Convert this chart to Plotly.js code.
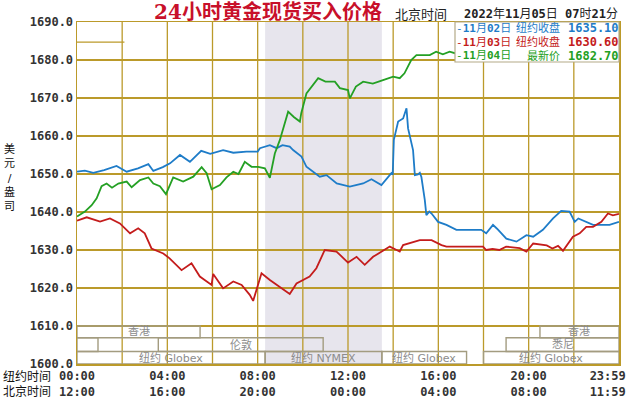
<!DOCTYPE html>
<html><head><meta charset="utf-8">
<script src="https://cdn.plot.ly/plotly-3.0.1.min.js"></script>
<style>body{margin:0;background:#fff}#chart{width:630px;height:400px}</style>
</head><body><div id="chart"></div>
<script>
// ---- data (hours of New-York time, USD/oz) ----
const hoursNov02 = [0,0.35,0.72,1.2,1.75,2.2,2.7,3.16,3.38,3.8,4.12,4.56,5.0,5.5,5.9,6.47,6.92,7.5,8.0,8.1,8.54,8.84,9.1,9.42,9.57,9.94,10.16,10.75,11.05,11.5,12.08,12.67,13.04,13.48,13.92,13.98,14.03,14.22,14.44,14.59,14.66,14.88,14.96,15.1,15.18,15.25,15.4,15.47,15.6,15.7,15.99,16.36,16.8,17.9,18.12,18.42,18.6,19.01,19.46,19.9,20.2,20.63,21.08,21.44,21.81,22.04,22.2,22.85,23.58,24];
const priceNov02 = [1650.6,1650.9,1650.3,1651.0,1652.1,1650.6,1651.5,1652.6,1650.8,1651.8,1652.8,1655.0,1653.2,1656.1,1655.3,1656.3,1655.6,1655.9,1655.9,1656.8,1657.6,1656.8,1657.6,1657.2,1656.3,1654.6,1651.9,1649.3,1649.7,1647.5,1646.7,1647.5,1648.6,1647.1,1650.2,1649.8,1659.0,1663.8,1664.6,1667.3,1662.0,1656.3,1649.7,1649.9,1650.3,1649.2,1643.2,1639.2,1640.1,1639.6,1637.4,1636.6,1635.3,1635.3,1634.4,1636.6,1635.6,1633.0,1632.2,1633.9,1633.5,1635.3,1638.3,1640.3,1640.1,1637.4,1638.3,1636.6,1636.6,1637.4];

const hoursNov03 = [0,0.43,1.02,1.46,1.9,2.35,2.71,3.0,3.3,3.82,4.1,4.63,5.07,5.44,5.96,6.03,6.47,6.92,7.29,7.65,7.8,8.17,8.54,8.98,9.13,9.42,9.72,10.0,10.3,10.6,10.97,11.49,12.0,12.38,12.74,13.11,13.48,13.85,14.15,14.29,14.44,15.18,15.7,16.14,16.36,17.98,18.12,18.4,18.7,19.0,19.6,19.9,20.2,20.8,21.05,21.3,21.52,21.96,22.26,22.55,22.85,23.22,23.51,23.73,24];
const priceNov03 = [1637.7,1638.6,1637.5,1638.3,1637.0,1634.4,1635.7,1634.4,1630.4,1629.1,1627.8,1624.7,1626.5,1623.0,1620.8,1623.7,1619.9,1621.7,1620.8,1618.2,1616.6,1623.9,1622.1,1620.3,1619.5,1618.4,1621.2,1622.1,1623.0,1625.2,1630.0,1629.6,1626.7,1628.2,1626.1,1628.2,1629.6,1630.9,1630.0,1629.6,1631.3,1632.6,1632.6,1631.3,1630.9,1630.9,1630.0,1630.3,1630.0,1630.9,1630.5,1629.6,1631.7,1631.2,1630.4,1631.1,1629.8,1633.5,1634.4,1636.1,1636.1,1637.4,1639.6,1639.1,1639.5];

const hoursNov04 = [0,0.35,0.65,0.87,1.09,1.31,1.55,1.83,2.2,2.42,2.79,3.16,3.38,3.67,3.94,4.26,4.7,5.15,5.52,5.74,5.96,6.33,6.62,6.92,7.15,7.43,7.73,8.02,8.32,8.54,8.76,8.98,9.35,9.6,9.87,9.93,10.16,10.68,11.0,11.42,11.64,12.0,12.08,12.35,12.67,13.1,13.55,14.0,14.29,14.5,14.8,15.03,15.62,15.9,16.2,16.5,16.73,16.95];
const priceNov04 = [1638.8,1640.1,1641.8,1643.6,1646.8,1647.5,1646.4,1647.5,1648.0,1646.5,1648.4,1649.1,1647.5,1646.8,1644.7,1649.1,1648.0,1649.3,1651.8,1650.2,1646.0,1647.1,1649.1,1650.6,1650.0,1653.2,1651.9,1651.9,1651.5,1649.0,1655.4,1658.9,1666.4,1665.0,1663.8,1666.0,1671.2,1675.2,1674.3,1674.3,1672.6,1672.1,1669.9,1673.0,1674.3,1673.8,1674.7,1675.6,1675.2,1676.5,1680.0,1681.3,1681.3,1682.2,1681.5,1682.2,1681.8,1682.7];

const seriesColors = ["#1e7cc8","#c41c1c","#24a024"];

const labelHours = [0,4,8,12,16,20,23.5];
const nyLabels = ["00:00","04:00","08:00","12:00","16:00","20:00","23:59"];
const bjLabels = ["12:00","16:00","20:00","00:00","04:00","08:00","11:59"];
const gridHours = [2,4,6,8,10,12,14,16,18,20,22];

const nymexStart = 8.33, nymexEnd = 13.5;

const sessionNames = ["香港","香港","","悉尼","伦敦","纽约 Globex","纽约 NYMEX","纽约 Globex","纽约 Globex"];
const sessionStart = [0,20.5,0,19.0,3.6,0,8.33,13.5,18.0];
const sessionEnd   = [5.45,24,0.93,24,10.9,8.33,13.5,17.25,24];
const sessionRow   = [0,0,1,1,1,2,2,2,2];
const rowTop    = [1610,1606.9,1603.3];
const rowBottom = [1606.9,1603.3,1600];

const legendDates  = ["-<b>11</b>月<b>02</b>日","-<b>11</b>月<b>03</b>日","-<b>11</b>月<b>04</b>日"];
const legendKinds  = ["纽约收盘","纽约收盘","最新价"];
const legendValues = ["1635.10","1630.60","1682.70"];

// ---- layout helpers ----
const L = 77, R = 619, T = 22, B = 364;
const PX = px => (px - L) / (R - L);
const PY = py => (B - py) / (B - T);
const GOLD = "#bb9a2a";
const MONO = "DejaVu Sans Mono, Noto Sans CJK SC";
const CJK = "DejaVu Sans, Noto Sans CJK SC";

const traces = [
  {x: hoursNov02, y: priceNov02, color: seriesColors[0]},
  {x: hoursNov03, y: priceNov03, color: seriesColors[1]},
  {x: hoursNov04, y: priceNov04, color: seriesColors[2]}
].map(s => ({type:"scatter", mode:"lines", x:s.x, y:s.y,
  line:{color:s.color, width:1.8}, hoverinfo:"skip", showlegend:false}));

const shapes = [];
shapes.push({type:"rect", xref:"x", yref:"paper", x0:nymexStart, x1:nymexEnd, y0:0, y1:1,
  fillcolor:"#e7e5ed", line:{width:0}, layer:"below"});
gridHours.forEach(h => shapes.push({type:"line", xref:"x", yref:"paper", x0:h, x1:h, y0:0, y1:1,
  line:{color:GOLD, width:1.3}, layer:"below"}));
shapes.push({type:"line", xref:"x", yref:"y", x0:0, x1:2.1, y0:1684.7, y1:1684.7,
  line:{color:GOLD, width:1.3}, layer:"below"});
sessionNames.forEach((n,i) => shapes.push({type:"rect", xref:"x", yref:"y",
  x0:sessionStart[i], x1:sessionEnd[i], y0:rowBottom[sessionRow[i]], y1:rowTop[sessionRow[i]],
  line:{color:"#a39c80", width:1.4}, fillcolor:"rgba(0,0,0,0)", layer:"above"}));
shapes.push({type:"rect", xref:"paper", yref:"paper", x0:PX(455), x1:1, y0:PY(62), y1:1,
  fillcolor:"#ffffff", line:{color:"#b4aa88", width:1.2}, layer:"above"});

const ann = (o) => Object.assign({xref:"paper", yref:"paper", showarrow:false, xanchor:"center", yanchor:"middle"}, o);
const annotations = [];
sessionNames.forEach((n,i) => { if(!n) return;
  annotations.push(ann({xref:"x", yref:"y", x:(sessionStart[i]+sessionEnd[i])/2,
    y:(rowTop[sessionRow[i]]+rowBottom[sessionRow[i]])/2, text:n,
    font:{family:CJK, size:11, color:"#8c8c8c"}}));
});
legendDates.forEach((d,i) => {
  const y = PY(28.5 + 13.5*i);
  annotations.push(ann({x:PX(454), y:y, xanchor:"left", text:d,
    font:{family:MONO, size:11, color:seriesColors[i]}}));
  annotations.push(ann({x:PX(562), y:y, xanchor:"right", text:legendKinds[i],
    font:{family:CJK, size:11, color:seriesColors[i]}}));
  annotations.push(ann({x:PX(621), y:y, xanchor:"right", text:"<b>"+legendValues[i]+"</b>",
    font:{family:MONO, size:12, color:seriesColors[i]}}));
});
annotations.push(ann({x:PX(421), y:PY(14), text:"北京时间",
  font:{family:CJK, size:13, color:"#222"}}));
annotations.push(ann({x:PX(620), y:PY(14), xanchor:"right",
  text:"<b>2022</b>年<b>11</b>月<b>05</b>日 <b>07</b>时<b>21</b>分",
  font:{family:MONO, size:12, color:"#222"}}));
["纽约时间","北京时间"].forEach((t,i) => annotations.push(ann({
  x:PX(1), y:PY(376 + 16*i), xanchor:"left", text:t,
  font:{family:CJK, size:12, color:"#111"}})));
annotations.push(ann({x:PX(9), y:PY(178), text:["美","元","/","盎","司"].join("<br>"),
  font:{family:CJK, size:11, color:"#111"}}));

const tickFont = {family:MONO, size:12, color:"#333", weight:"bold"};
const layout = {
  width:630, height:400,
  margin:{l:L, r:630-R, t:T, b:400-B},
  paper_bgcolor:"#ffffff", plot_bgcolor:"#ffffff",
  title:{text:"24小时黄金现货买入价格", xref:"container", yref:"container",
    x:268/630, xanchor:"center", y:1-12/400, yanchor:"middle",
    font:{family:"DejaVu Serif, Noto Sans CJK SC", size:20, color:"#c8102a", weight:"bold"}},
  xaxis:{range:[0,24], tickmode:"array", tickvals:labelHours,
    ticktext:nyLabels.map((t,i) => t + "<br>" + bjLabels[i]),
    showgrid:false, zeroline:false, showline:true, mirror:true, linecolor:GOLD, linewidth:1.5,
    ticks:"", tickfont:tickFont, fixedrange:true},
  yaxis:{range:[1600,1690], tick0:1600, dtick:10, tickformat:".1f",
    showgrid:true, gridcolor:GOLD, gridwidth:1.3, zeroline:false,
    showline:true, mirror:true, linecolor:GOLD, linewidth:1.5,
    ticks:"", tickfont:tickFont, fixedrange:true},
  shapes:shapes, annotations:annotations
};
Plotly.newPlot("chart", traces, layout, {displayModeBar:false, staticPlot:true});
</script>
</body></html>
